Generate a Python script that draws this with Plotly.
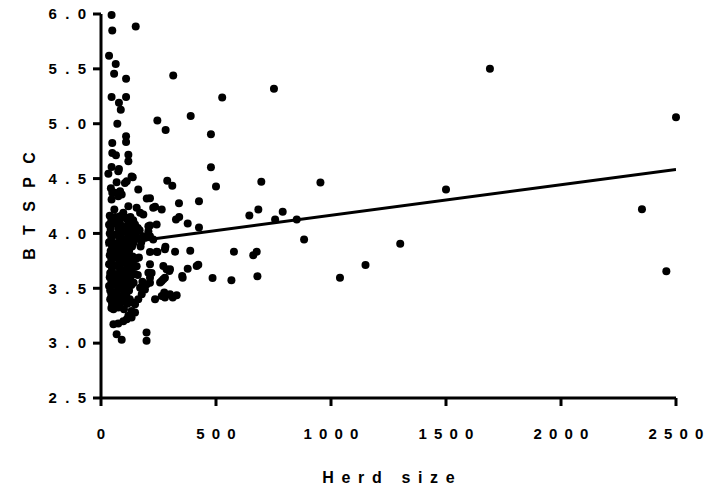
import plotly.graph_objects as go

# ---- data ----
# scattered herds (Herd size, BTSPC)
herd_size_sparse = [1691, 2500, 2352, 2458, 1500, 1301, 1150, 1039, 954, 883, 851, 790, 757, 752,
                    697, 684, 645, 680, 677, 662, 578, 567, 527, 500, 485, 478, 478, 426, 426, 423,
                    416, 390, 388, 377, 377, 355, 339, 340, 326, 322, 329, 312, 314, 310, 288, 297,
                    281, 280, 275, 271, 271, 264, 257, 245, 245, 235, 235, 151, 46, 49, 35, 64, 57,
                    109, 46, 109, 78, 86, 71, 109, 109, 49, 49, 65, 119, 119, 46, 78, 32, 138, 112,
                    68, 43, 49, 83, 75, 162, 199, 58, 83, 155, 170, 119, 133, 148, 242, 213, 206,
                    191, 227, 242, 278, 285, 264, 278, 353, 278, 199, 191, 177, 162, 148, 198, 198,
                    68, 90, 54, 75, 97, 112, 54, 75, 119, 133, 148, 75, 133, 104, 61, 90, 46, 227,
                    97, 119, 184, 206, 184, 300, 206, 213, 170, 264, 300, 140, 133,
                    160, 165, 172, 155, 180, 168, 175, 213, 213, 213, 213, 220, 213]
btspc_sparse = [5.50, 5.06, 4.22, 3.655, 4.40, 3.905, 3.712, 3.597, 4.464, 3.944, 4.127, 4.197, 4.127, 5.318,
                4.47, 4.218, 4.164, 3.609, 3.834, 3.80, 3.834, 3.573, 5.24, 4.427, 3.594, 4.903, 4.603, 4.294, 4.055, 3.715,
                3.703, 5.07, 3.843, 4.09, 3.679, 3.597, 4.276, 4.15, 4.127, 3.834, 3.436, 3.415, 5.44, 4.435, 4.48, 3.657,
                4.943, 3.879, 3.461, 3.703, 3.582, 4.218, 3.552, 5.03, 3.83, 4.243, 3.40, 5.885, 5.99, 5.85, 5.62, 5.545, 5.455,
                5.41, 5.243, 5.243, 5.19, 5.127, 5.00, 4.885, 4.834, 4.825, 4.734, 4.712, 4.718, 4.657, 4.606, 4.588, 4.543, 4.512, 4.475,
                4.466, 4.412, 4.37, 4.385, 4.34, 4.40, 4.318, 4.218, 4.157, 4.234, 4.188, 4.143, 4.097, 4.082, 4.082, 4.073, 4.066,
                3.96, 3.945, 3.834, 3.855, 3.673, 3.566, 3.597, 3.612, 3.415, 3.536, 3.49, 3.445, 3.40, 3.355, 3.097, 3.021,
                3.082, 3.03, 3.173, 3.18, 3.20, 3.218, 3.309, 3.325, 3.25, 3.234, 3.28, 4.566, 4.52, 4.46, 4.37, 4.355, 4.309, 4.234,
                4.188, 4.248, 4.173, 4.02, 3.975, 3.673, 3.642, 3.597, 3.506, 3.43, 3.445, 3.37, 3.294,
                3.62, 3.78, 3.88, 3.70, 3.56, 4.03, 3.92, 4.32, 3.975, 3.83, 3.72, 3.64, 3.55]

# dense core of small herds
herd_size_core = [38, 62, 95, 128, 45, 80, 112, 140, 35, 58, 90, 120, 42, 75, 105, 132, 160,
                  38, 65, 92, 118, 145, 45, 78, 100, 128, 155, 35, 62, 88, 115, 140, 48, 82, 108, 135,
                  42, 68, 95, 122, 38, 58, 85, 110, 138, 45, 75, 100, 128, 152, 35, 62, 90, 115, 142,
                  48, 80, 105, 132, 40, 66, 92, 120, 148, 38, 50, 78, 102, 130, 45, 62, 88, 115, 142,
                  35, 55, 80, 105, 132, 40, 68, 95, 122, 45, 55, 82, 110, 40, 70, 98, 125, 48, 60, 88, 115,
                  45, 75, 100]
btspc_core = [4.16, 4.15, 4.17, 4.15, 4.12, 4.11, 4.13, 4.12, 4.08, 4.09, 4.07, 4.08, 4.04, 4.05, 4.03, 4.04, 4.05,
              4.00, 3.99, 4.01, 4.00, 3.99, 3.96, 3.97, 3.95, 3.96, 3.97, 3.92, 3.91, 3.93, 3.92, 3.91, 3.88, 3.87, 3.89, 3.88,
              3.84, 3.85, 3.83, 3.84, 3.80, 3.79, 3.81, 3.80, 3.79, 3.76, 3.77, 3.75, 3.76, 3.77, 3.72, 3.71, 3.73, 3.72, 3.71,
              3.68, 3.69, 3.67, 3.68, 3.64, 3.63, 3.65, 3.64, 3.63, 3.60, 3.61, 3.59, 3.60, 3.61, 3.56, 3.55, 3.57, 3.56, 3.55,
              3.52, 3.53, 3.51, 3.52, 3.53, 3.48, 3.47, 3.49, 3.48, 3.44, 3.45, 3.43, 3.44, 3.40, 3.41, 3.39, 3.40, 3.36, 3.35, 3.37, 3.36,
              3.32, 3.33, 3.31]

# fitted regression line
fit_x = [20, 2500]
fit_y = [3.893, 4.582]

x_ticks = [0, 500, 1000, 1500, 2000, 2500]
y_ticks = [2.5, 3.0, 3.5, 4.0, 4.5, 5.0, 5.5, 6.0]
x_range = [0, 2500]
y_range = [2.5, 6.0]


def spaced(s, sep="\u00a0\u00a0"):
    return sep.join(list(s))


W, H = 708, 494
M = dict(l=101, r=32, t=14, b=96)
plot_w = W - M["l"] - M["r"]
plot_h = H - M["t"] - M["b"]
TICK = 8  # px
FONT = dict(family="Liberation Sans, Arial, sans-serif", size=15, color="black", weight="bold")
AX = dict(color="black", width=3)

fig = go.Figure()
fig.add_trace(go.Scatter(x=fit_x, y=fit_y, mode="lines",
                         line=dict(color="black", width=3), cliponaxis=False, hoverinfo="skip"))
fig.add_trace(go.Scatter(x=herd_size_sparse + herd_size_core, y=btspc_sparse + btspc_core,
                         mode="markers", marker=dict(color="black", size=8, line=dict(width=0)),
                         cliponaxis=False))

# axis lines and ticks drawn as unclipped paper-referenced shapes
tx = TICK / plot_w
ty = TICK / plot_h
shapes = [
    dict(type="line", xref="paper", yref="paper", x0=0, x1=1, y0=0, y1=0, line=AX),
    dict(type="line", xref="paper", yref="paper", x0=0, x1=0, y0=0, y1=1, line=AX),
]
for v in x_ticks:
    fx = (v - x_range[0]) / (x_range[1] - x_range[0])
    shapes.append(dict(type="line", xref="paper", yref="paper", x0=fx, x1=fx, y0=-ty, y1=0, line=AX))
for v in y_ticks:
    fy = (v - y_range[0]) / (y_range[1] - y_range[0])
    shapes.append(dict(type="line", xref="paper", yref="paper", x0=-tx, x1=0, y0=fy, y1=fy, line=AX))

fig.update_layout(
    width=W, height=H,
    margin=M,
    paper_bgcolor="white", plot_bgcolor="white",
    showlegend=False,
    font=FONT,
    shapes=shapes,
)
fig.update_xaxes(range=x_range, tickvals=x_ticks, ticktext=[spaced(str(v), "\u00a0\u2009") for v in x_ticks],
                 showline=False, ticks="outside", ticklen=TICK, tickwidth=3,
                 tickcolor="rgba(0,0,0,0)", showgrid=False, zeroline=False,
                 tickfont=FONT, automargin=False, ticklabelstandoff=14, ticklabeloverflow="allow",
                 title=dict(text=spaced("Herd size", "\u00a0\u2009"), font=dict(FONT, size=16), standoff=30))
fig.update_yaxes(range=y_range, tickvals=y_ticks, ticktext=[spaced(f"{v:.1f}") for v in y_ticks],
                 showline=False, ticks="outside", ticklen=TICK, tickwidth=3,
                 tickcolor="rgba(0,0,0,0)", showgrid=False, zeroline=False,
                 tickfont=FONT, automargin=False, ticklabelstandoff=3, ticklabeloverflow="allow",
                 title=dict(text=spaced("BTSPC", "\u00a0\u00a0\u00a0"), font=dict(FONT, size=16), standoff=8))

fig.write_html("out.html", config={"displayModeBar": False},
               post_script="document.body.style.margin='0';")
